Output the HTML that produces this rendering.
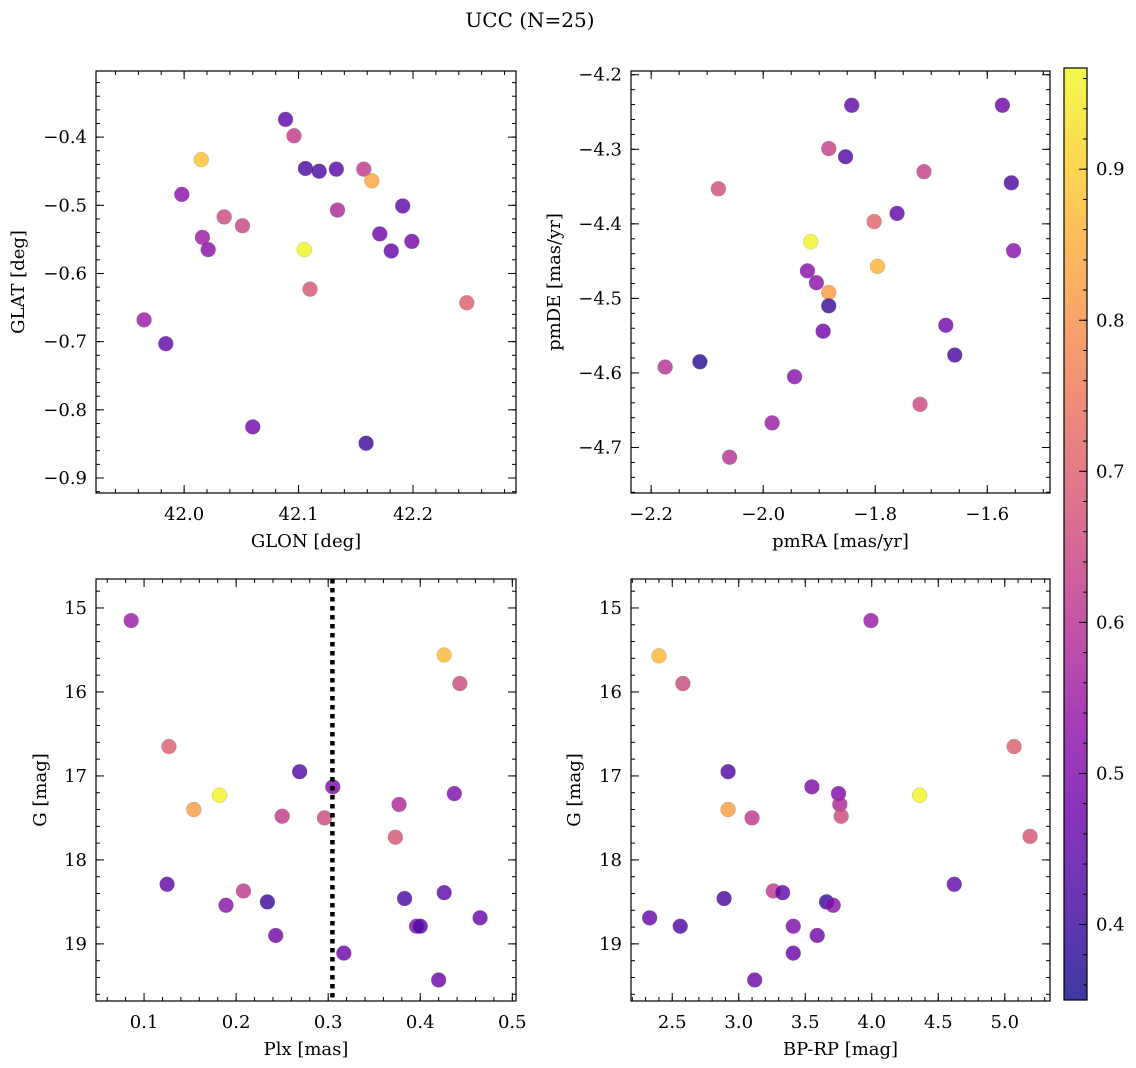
<!DOCTYPE html>
<html><head><meta charset="utf-8"><style>
body{margin:0;background:#fff}
svg{display:block;font-family:"DejaVu Serif","Liberation Serif",serif}
</style></head><body>
<svg id="fig" width="1136" height="1068" viewBox="0 0 1136 1068" xmlns="http://www.w3.org/2000/svg">
<text x="530" y="27" font-size="20" text-anchor="middle">UCC (N=25)</text>
</svg>
<script>
// ---- data ----
const cValsP1 = [0.45,0.62,0.88,0.42,0.42,0.44,0.62,0.84,0.52,0.58,0.45,0.65,0.64,0.55,0.52,0.96,0.47,0.48,0.46,0.68,0.70,0.55,0.45,0.48,0.40];
const glon = [42.0886,42.096,42.015,42.106,42.118,42.133,42.157,42.164,41.998,42.134,42.191,42.035,42.051,42.016,42.021,42.105,42.171,42.199,42.181,42.110,42.247,41.965,41.984,42.060,42.159];
const glat = [-0.374,-0.398,-0.433,-0.446,-0.450,-0.447,-0.447,-0.464,-0.484,-0.507,-0.501,-0.517,-0.530,-0.547,-0.565,-0.565,-0.542,-0.553,-0.567,-0.623,-0.643,-0.668,-0.703,-0.825,-0.849];

const cValsP2 = [0.45,0.47,0.63,0.43,0.63,0.42,0.66,0.45,0.71,0.96,0.52,0.86,0.52,0.52,0.82,0.40,0.48,0.48,0.42,0.38,0.60,0.52,0.65,0.55,0.60];
const pmra = [-1.842,-1.573,-1.883,-1.853,-1.713,-1.557,-2.080,-1.761,-1.802,-1.915,-1.553,-1.796,-1.921,-1.905,-1.883,-1.883,-1.674,-1.893,-1.658,-2.113,-2.175,-1.944,-1.720,-1.984,-2.060];
const pmde = [-4.241,-4.241,-4.299,-4.310,-4.330,-4.345,-4.353,-4.386,-4.397,-4.424,-4.436,-4.457,-4.463,-4.479,-4.492,-4.510,-4.536,-4.544,-4.576,-4.585,-4.592,-4.605,-4.642,-4.667,-4.713];

const cValsP3 = [0.55,0.87,0.65,0.70,0.43,0.50,0.96,0.50,0.58,0.82,0.62,0.65,0.68,0.45,0.62,0.45,0.40,0.42,0.52,0.46,0.50,0.43,0.48,0.47,0.47];
const plx = [0.086,0.426,0.443,0.127,0.269,0.305,0.182,0.437,0.377,0.154,0.250,0.296,0.373,0.125,0.208,0.426,0.234,0.383,0.189,0.465,0.396,0.400,0.243,0.317,0.420];
const gmag3 = [15.15,15.56,15.90,16.65,16.95,17.13,17.23,17.21,17.34,17.40,17.48,17.50,17.73,18.29,18.37,18.39,18.50,18.46,18.54,18.69,18.79,18.79,18.90,19.11,19.43];
const plxLine = [0.3046];

const cValsP4 = [0.55,0.87,0.65,0.70,0.43,0.50,0.96,0.50,0.58,0.82,0.62,0.65,0.68,0.45,0.62,0.45,0.40,0.42,0.52,0.46,0.50,0.43,0.48,0.47,0.47];
const bprp = [3.994,2.40,2.58,5.07,2.92,3.55,4.36,3.75,3.76,2.92,3.10,3.77,5.19,4.62,3.26,3.33,3.66,2.89,3.71,2.33,3.41,2.56,3.59,3.41,3.12];
const gmag4 = [15.15,15.57,15.90,16.65,16.95,17.13,17.23,17.21,17.34,17.40,17.50,17.48,17.72,18.29,18.37,18.39,18.50,18.46,18.54,18.69,18.79,18.79,18.90,19.11,19.43];

const cbTicks = [0.4,0.5,0.6,0.7,0.8,0.9];
const cbRange = [0.35,0.967];

// ---- helpers ----
const NS='http://www.w3.org/2000/svg';
const svg=document.getElementById('fig');
const ALPHA=0.8;
function el(tag,attrs,parent){const e=document.createElementNS(NS,tag);for(const k in attrs)e.setAttribute(k,attrs[k]);(parent||svg).appendChild(e);return e;}
const plasma=[[0,13,8,135],[0.1,65,4,157],[0.2,106,0,168],[0.3,143,13,164],[0.4,177,42,144],[0.5,204,71,120],[0.6,225,100,98],[0.7,242,132,75],[0.8,252,166,54],[0.9,252,206,37],[1,240,249,33]];
function cmap(t){t=Math.max(0,Math.min(1,t));for(let i=1;i<plasma.length;i++){if(t<=plasma[i][0]){const a=plasma[i-1],b=plasma[i],f=(t-a[0])/(b[0]-a[0]);return `rgb(${Math.round(a[1]+f*(b[1]-a[1]))},${Math.round(a[2]+f*(b[2]-a[2]))},${Math.round(a[3]+f*(b[3]-a[3]))})`;}}return 'rgb(240,249,33)';}
function colorOf(v){return cmap((v-cbRange[0])/(cbRange[1]-cbRange[0]));}
function fmt(v,d){const s=Math.abs(v).toFixed(d);return (v<-1e-9?'\u2212':'')+s;}

function panel(o){
  const g=el('g',{});
  
  
  const sx=v=>o.x0+(v-o.xl[0])/(o.xl[1]-o.xl[0])*(o.x1-o.x0);
  const sy=v=>o.y0+(v-o.yl[0])/(o.yl[1]-o.yl[0])*(o.y1-o.y0);
  const tg=el('g',{stroke:'#000','stroke-width':1},g);
  
  
  function ticksX(step,len){const s=Math.ceil(Math.min(...o.xl)/step-1e-6);for(let i=s;i*step<=Math.max(...o.xl)+1e-9;i++){const x=sx(i*step);el('line',{x1:x,x2:x,y1:o.y1,y2:o.y1-len},tg);el('line',{x1:x,x2:x,y1:o.y0,y2:o.y0+len},tg);}}
  function ticksY(step,len){const lo=Math.min(...o.yl),hi=Math.max(...o.yl);const s=Math.ceil(lo/step-1e-6);for(let i=s;i*step<=hi+1e-9;i++){const y=sy(i*step);el('line',{x1:o.x0,x2:o.x0+len,y1:y,y2:y},tg);el('line',{x1:o.x1,x2:o.x1-len,y1:y,y2:y},tg);}}
  ticksX(o.xmin,4);ticksX(o.xmaj,8);ticksY(o.ymin,4);ticksY(o.ymaj,8);
  o.xticks.forEach(v=>{const t=el('text',{x:sx(v),y:o.y1+27,'font-size':18,'text-anchor':'middle'},g);t.textContent=fmt(v,o.xd);});
  o.yticks.forEach(v=>{const t=el('text',{x:o.x0-9,y:sy(v)+6,'font-size':18,'text-anchor':'end'},g);t.textContent=fmt(v,o.yd);});
  const xt=el('text',{x:(o.x0+o.x1)/2,y:o.y1+54,'font-size':18,'text-anchor':'middle'},g);xt.textContent=o.xlabel;
  
  
  const yt=el('text',{x:o.ylx,y:(o.y0+o.y1)/2,'font-size':18,'text-anchor':'middle',transform:`rotate(-90 ${o.ylx} ${(o.y0+o.y1)/2})`},g);yt.textContent=o.ylabel;
  
  
  o.xs.forEach((xv,i)=>{const c=el('circle',{cx:sx(xv),cy:sy(o.ys[i]),r:7.5,fill:colorOf(o.cs[i]),'fill-opacity':ALPHA,stroke:'#888','stroke-opacity':0.6,'stroke-width':0.4},g);
    
    });
  if(o.vline){o.vline.forEach(v=>{const l=el('line',{x1:sx(v),x2:sx(v),y1:o.y0,y2:o.y1,stroke:'#000','stroke-width':4.5,'stroke-dasharray':'4.5 4.5'},g);
    
    });}
  const fr=el('rect',{x:o.x0,y:o.y0,width:o.x1-o.x0,height:o.y1-o.y0,fill:'none',stroke:'#000','stroke-width':1.2},g);
  
  
}

panel({name:'glon-glat-panel',x0:96,x1:516,y0:71,y1:493,xl:[41.923,42.290],yl:[-0.303,-0.922],xs:glon,ys:glat,cs:cValsP1,
  xmaj:0.1,xmin:0.02,ymaj:0.1,ymin:0.02,xticks:[42.0,42.1,42.2],yticks:[-0.4,-0.5,-0.6,-0.7,-0.8,-0.9],xd:1,yd:1,xlabel:'GLON [deg]',ylabel:'GLAT [deg]',ylx:24});
panel({name:'pm-panel',x0:631,x1:1050,y0:71,y1:493,xl:[-2.236,-1.488],yl:[-4.195,-4.761],xs:pmra,ys:pmde,cs:cValsP2,
  xmaj:0.2,xmin:0.05,ymaj:0.1,ymin:0.02,xticks:[-2.2,-2.0,-1.8,-1.6],yticks:[-4.2,-4.3,-4.4,-4.5,-4.6,-4.7],xd:1,yd:1,xlabel:'pmRA [mas/yr]',ylabel:'pmDE [mas/yr]',ylx:560});
panel({name:'plx-g-panel',x0:96,x1:516,y0:579,y1:1001,xl:[0.0478,0.504],yl:[14.655,19.68],xs:plx,ys:gmag3,cs:cValsP3,vline:plxLine,
  xmaj:0.1,xmin:0.02,ymaj:1,ymin:0.2,xticks:[0.1,0.2,0.3,0.4,0.5],yticks:[15,16,17,18,19],xd:1,yd:0,xlabel:'Plx [mas]',ylabel:'G [mag]',ylx:46});
panel({name:'cmd-panel',x0:631,x1:1050,y0:579,y1:1001,xl:[2.19,5.34],yl:[14.655,19.68],xs:bprp,ys:gmag4,cs:cValsP4,
  xmaj:0.5,xmin:0.1,ymaj:1,ymin:0.2,xticks:[2.5,3.0,3.5,4.0,4.5,5.0],yticks:[15,16,17,18,19],xd:1,yd:0,xlabel:'BP-RP [mag]',ylabel:'G [mag]',ylx:580});

(function(){
  const x0=1064,x1=1087,y0=68,y1=1000;
  const defs=el('defs',{});
  const lg=el('linearGradient',{id:'cbg',x1:0,y1:1,x2:0,y2:0},defs);
  for(let i=0;i<=20;i++){el('stop',{offset:i/20,'stop-color':cmap(i/20)},lg);}
  const g=el('g',{});
  
  
  el('rect',{x:x0,y:y0,width:x1-x0,height:y1-y0,fill:'url(#cbg)','fill-opacity':ALPHA},g);
  el('rect',{x:x0,y:y0,width:x1-x0,height:y1-y0,fill:'none',stroke:'#000','stroke-width':1.2},g);
  const sy=v=>y1-(v-cbRange[0])/(cbRange[1]-cbRange[0])*(y1-y0);
  for(let v=0.36;v<cbRange[1];v+=0.02){const y=sy(v);el('line',{x1:x1,x2:x1-4,y1:y,y2:y,stroke:'#000'},g);}
  cbTicks.forEach(v=>{const y=sy(v);el('line',{x1:x1,x2:x1-8,y1:y,y2:y,stroke:'#000'},g);
    const t=el('text',{x:x1+9,y:y+6,'font-size':18},g);t.textContent=v.toFixed(1);
    
    });
})();
</script>
</body></html>
